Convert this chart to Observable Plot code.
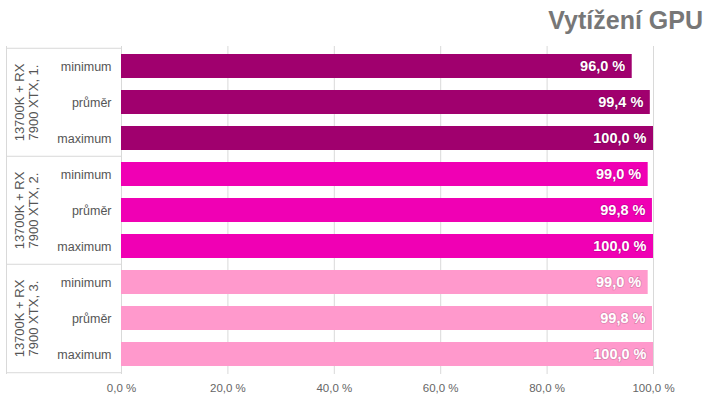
<!DOCTYPE html>
<html><head><meta charset="utf-8">
<script src="https://cdn.jsdelivr.net/npm/d3@7"></script>
<script src="https://cdn.jsdelivr.net/npm/@observablehq/plot@0.6"></script>
<style>
body{margin:0;background:#fff;font-family:"Liberation Sans",Arial,sans-serif;}
#wrap{width:720px;height:405px;position:relative;}
#title{height:40px;text-align:right;padding-right:17px;box-sizing:border-box;font-size:25px;font-weight:bold;color:#777;line-height:40px;}
</style></head>
<body><div id="wrap"><div id="title">Vytížení GPU</div><div id="chart"></div></div>
<script>
const groups = ["13700K + RX\n7900 XTX, 1.", "13700K + RX\n7900 XTX, 2.", "13700K + RX\n7900 XTX, 3."];
const stats = ["minimum", "průměr", "maximum"];
const values1 = [96.0, 99.4, 100.0];
const values2 = [99.0, 99.8, 100.0];
const values3 = [99.0, 99.8, 100.0];
const colors = ["#a0006e", "#f000b4", "#ff99cc"];
const xTicks = [0, 20, 40, 60, 80, 100];

const series = [values1, values2, values3];
const rows = [];
groups.forEach((g, gi) => stats.forEach((s, si) => rows.push({key: gi + "|" + s, group: g, stat: s, value: series[gi][si], gi})));

const H = 365, mT = 6, mB = 31;
const step = (H - mT - mB) / rows.length;
const fmt = v => v.toFixed(1).replace(".", ",") + " %";
const firstRows = rows.filter((d, i) => i % 3 === 0);
const midRows = rows.filter((d, i) => i % 3 === 1);
const lastRow = [rows[rows.length - 1]];
const lineColor = "#d9d9d9";

const chart = Plot.plot({
  width: 720, height: H,
  marginLeft: 121, marginRight: 67, marginTop: mT, marginBottom: mB,
  style: {fontFamily: "Liberation Sans, Arial, sans-serif", overflow: "visible"},
  x: {domain: [0, 100], label: null},
  y: {domain: rows.map(d => d.key), padding: 0, label: null},
  color: {domain: [0, 1, 2], range: colors},
  marks: [
    Plot.ruleX(xTicks, {stroke: lineColor, strokeWidth: 1}),
    Plot.barX(rows, {y: "key", x: "value", fill: d => d.gi, insetTop: 6, insetBottom: 6}),
    Plot.text(rows, {y: "key", x: "value", text: d => fmt(d.value), textAnchor: "end", dx: -7, fill: "white", fontWeight: "bold", fontSize: 14.5, stroke: "rgba(0,0,0,0.12)", strokeWidth: 2}),
    Plot.axisY({tickSize: 0, tickPadding: 10, tickFormat: k => k.split("|")[1], fontSize: 12.5, color: "#555"}),
    Plot.axisX({ticks: xTicks, tickFormat: fmt, tickSize: 0, tickPadding: 9, fontSize: 11.5, color: "#666"}),
    // left label box
    Plot.ruleY(firstRows, {y: "key", x1: 0, x2: 0, insetLeft: -115, dy: -step / 2, stroke: lineColor}),
    Plot.ruleY(lastRow, {y: "key", x1: 0, x2: 0, insetLeft: -115, dy: step / 2, stroke: lineColor}),
    Plot.ruleX([0], {dx: -115, stroke: lineColor}),
    Plot.text(midRows, {y: "key", x: 0, text: "group", rotate: -90, dx: -95, lineHeight: 1.1, fontSize: 13, fill: "#555"})
  ]
});
document.getElementById("chart").appendChild(chart);
</script></body></html>
